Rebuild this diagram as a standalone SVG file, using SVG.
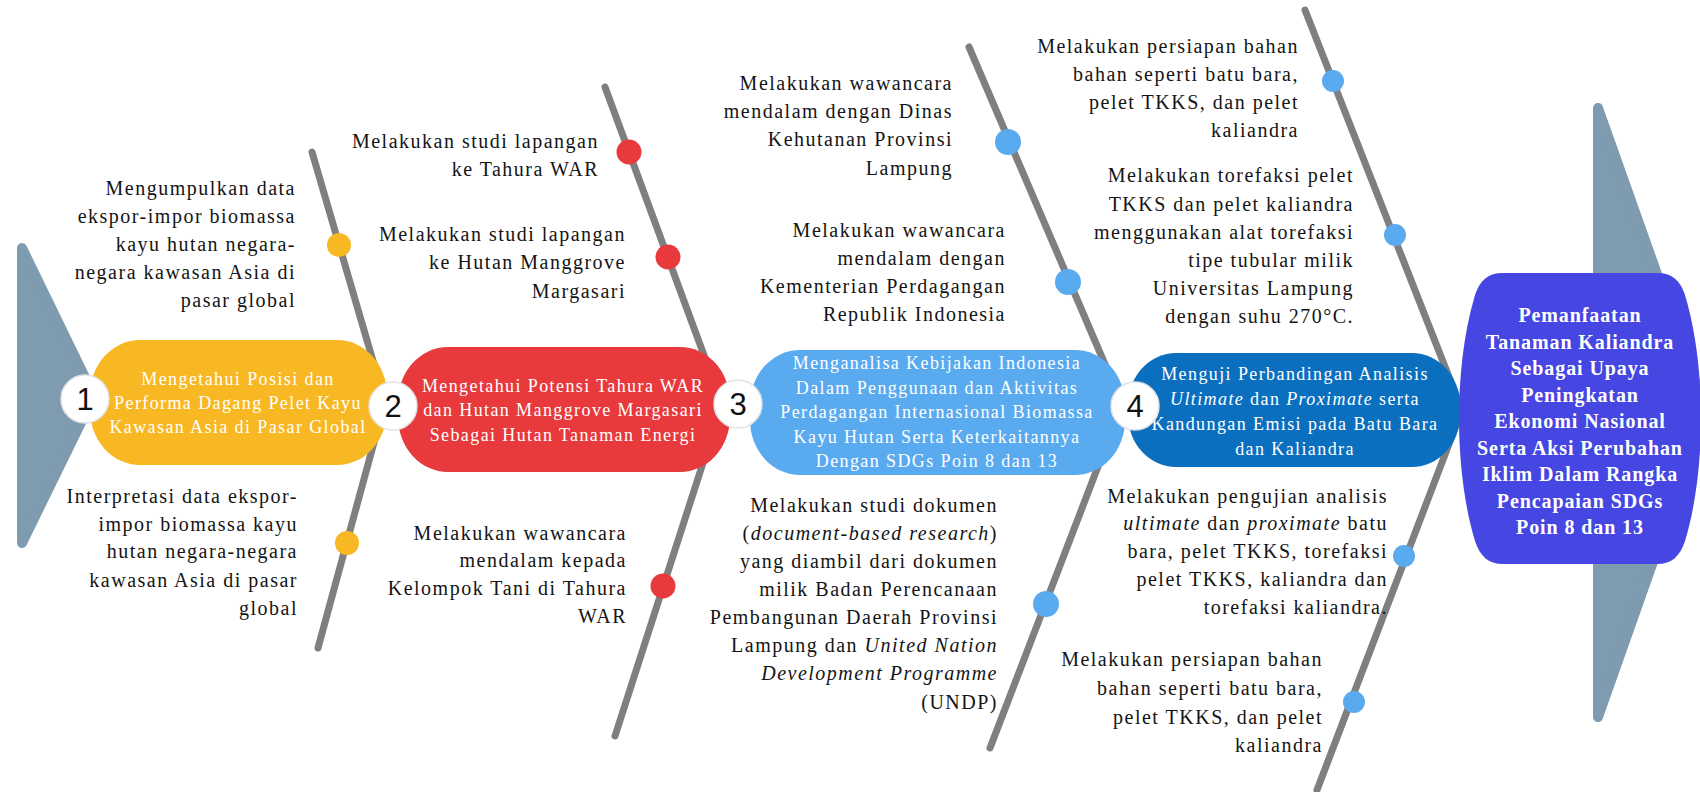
<svg xmlns="http://www.w3.org/2000/svg" width="1700" height="792" viewBox="0 0 1700 792">
<style>
.side{font-family:"Liberation Serif","Times New Roman",serif;font-size:20px;fill:#141414;text-anchor:end;letter-spacing:1.5px}
.pt{font-family:"Liberation Serif","Times New Roman",serif;font-size:18px;fill:#ffffff;text-anchor:middle;letter-spacing:1.4px}
.ft{font-family:"Liberation Serif","Times New Roman",serif;font-size:20px;font-weight:bold;fill:#ffffff;text-anchor:middle;letter-spacing:0.9px}
.num{font-family:"Liberation Sans",Arial,sans-serif;font-size:31px;fill:#111;text-anchor:middle}
.spine{fill:none;stroke:#7f7f7f;stroke-width:7;stroke-linecap:round;stroke-linejoin:round}
.tri{fill:#7f9bb0;stroke:#7f9bb0;stroke-width:10;stroke-linejoin:round}
.badge{fill:#ffffff;stroke:#e2e2e2;stroke-width:1.5}
.i{font-style:italic}
</style>
<g id="background">
<polygon class="tri" points="22,248 94,396 22,543"/>
<polygon class="tri" points="1598,108 1706,412 1598,717"/>
</g>
<g id="connectors">
<polyline class="spine" points="312,152 385,402 318,648"/>
<polyline class="spine" points="605,87 722,404 615,736"/>
<polyline class="spine" points="969,47 1122,404 990,748"/>
<polyline class="spine" points="1305,10 1462,410 1317,790"/>
<g fill="#f8b824">
<circle cx="339" cy="245" r="12"/>
<circle cx="347" cy="543" r="12"/>
</g>
<g fill="#e8393c">
<circle cx="629" cy="152" r="12.5"/>
<circle cx="668" cy="257" r="12.5"/>
<circle cx="663" cy="586" r="12.5"/>
</g>
<g fill="#5aaaf0">
<circle cx="1008" cy="142" r="13"/>
<circle cx="1068" cy="282" r="13"/>
<circle cx="1046" cy="604" r="13"/>
<circle cx="1333" cy="81" r="11"/>
<circle cx="1395" cy="235" r="11"/>
<circle cx="1404" cy="556" r="11"/>
<circle cx="1354" cy="702" r="11"/>
</g>
</g>
<g id="node1">
<rect x="90" y="340" width="297" height="125" rx="50" ry="55" fill="#f8b824"/>
<text class="pt"><tspan x="238" y="385">Mengetahui Posisi dan</tspan><tspan x="238" y="409">Performa Dagang Pelet Kayu</tspan><tspan x="238" y="433">Kawasan Asia di Pasar Global</tspan></text>
</g>
<g id="node2">
<rect x="398" y="347" width="332" height="125" rx="50" ry="55" fill="#e8393c"/>
<text class="pt"><tspan x="563" y="392">Mengetahui Potensi Tahura WAR</tspan><tspan x="563" y="416">dan Hutan Manggrove Margasari</tspan><tspan x="563" y="441">Sebagai Hutan Tanaman Energi</tspan></text>
</g>
<g id="node3">
<rect x="750" y="350" width="375" height="125" rx="50" ry="55" fill="#5aaaf0"/>
<text class="pt"><tspan x="937" y="369">Menganalisa Kebijakan Indonesia</tspan><tspan x="937" y="393.5">Dalam Penggunaan dan Aktivitas</tspan><tspan x="937" y="418">Perdagangan Internasional Biomassa</tspan><tspan x="937" y="442.5">Kayu Hutan Serta Keterkaitannya</tspan><tspan x="937" y="467">Dengan SDGs Poin 8 dan 13</tspan></text>
</g>
<g id="node4">
<rect x="1128" y="353" width="332" height="114" rx="48" ry="52" fill="#0b6fc0"/>
<text class="pt"><tspan x="1295" y="380">Menguji Perbandingan Analisis</tspan><tspan x="1295" y="405"><tspan class="i">Ultimate</tspan> dan <tspan class="i">Proximate</tspan> serta</tspan><tspan x="1295" y="430">Kandungan Emisi pada Batu Bara</tspan><tspan x="1295" y="455">dan Kaliandra</tspan></text>
</g>
<g id="goal">
<path d="M1503 273 H1657 C1672 273 1680 280 1685 295 C1697 335 1701 380 1701 418 C1701 456 1697 501 1685 541 C1680 556 1672 564 1657 564 H1503 C1488 564 1480 556 1475 541 C1463 501 1459 456 1459 418 C1459 380 1463 335 1475 295 C1480 280 1488 273 1503 273 Z" fill="#4646e2"/>
<text class="ft"><tspan x="1580" y="322">Pemanfaatan</tspan><tspan x="1580" y="348.5">Tanaman Kaliandra</tspan><tspan x="1580" y="375">Sebagai Upaya</tspan><tspan x="1580" y="401.5">Peningkatan</tspan><tspan x="1580" y="428">Ekonomi Nasional</tspan><tspan x="1580" y="454.5">Serta Aksi Perubahan</tspan><tspan x="1580" y="481">Iklim Dalam Rangka</tspan><tspan x="1580" y="507.5">Pencapaian SDGs</tspan><tspan x="1580" y="534">Poin 8 dan 13</tspan></text>
</g>
<g id="badge1"><circle class="badge" cx="85" cy="399" r="24"/><text class="num" x="85" y="410">1</text></g>
<g id="badge2"><circle class="badge" cx="393" cy="406" r="24"/><text class="num" x="393" y="417">2</text></g>
<g id="badge3"><circle class="badge" cx="738" cy="404" r="24"/><text class="num" x="738" y="415">3</text></g>
<g id="badge4"><circle class="badge" cx="1135" cy="406" r="24"/><text class="num" x="1135" y="417">4</text></g>
<g id="label-1a"><text class="side"><tspan x="296" y="195">Mengumpulkan data</tspan><tspan x="296" y="223">ekspor-impor biomassa</tspan><tspan x="296" y="251">kayu hutan negara-</tspan><tspan x="296" y="279">negara kawasan Asia di</tspan><tspan x="296" y="307">pasar global</tspan></text></g>
<g id="label-1b"><text class="side"><tspan x="298" y="503">Interpretasi data ekspor-</tspan><tspan x="298" y="531">impor biomassa kayu</tspan><tspan x="298" y="558">hutan negara-negara</tspan><tspan x="298" y="587">kawasan Asia di pasar</tspan><tspan x="298" y="615">global</tspan></text></g>
<g id="label-2a"><text class="side"><tspan x="599" y="148">Melakukan studi lapangan</tspan><tspan x="599" y="176">ke Tahura WAR</tspan></text></g>
<g id="label-2b"><text class="side"><tspan x="626" y="241">Melakukan studi lapangan</tspan><tspan x="626" y="269">ke Hutan Manggrove</tspan><tspan x="626" y="298">Margasari</tspan></text></g>
<g id="label-2c"><text class="side"><tspan x="627" y="540">Melakukan wawancara</tspan><tspan x="627" y="567">mendalam kepada</tspan><tspan x="627" y="595">Kelompok Tani di Tahura</tspan><tspan x="627" y="623">WAR</tspan></text></g>
<g id="label-3a"><text class="side"><tspan x="953" y="90">Melakukan wawancara</tspan><tspan x="953" y="118">mendalam dengan Dinas</tspan><tspan x="953" y="146">Kehutanan Provinsi</tspan><tspan x="953" y="175">Lampung</tspan></text></g>
<g id="label-3b"><text class="side"><tspan x="1006" y="237">Melakukan wawancara</tspan><tspan x="1006" y="265">mendalam dengan</tspan><tspan x="1006" y="293">Kementerian Perdagangan</tspan><tspan x="1006" y="321">Republik Indonesia</tspan></text></g>
<g id="label-3c"><text class="side"><tspan x="998" y="512">Melakukan studi dokumen</tspan><tspan x="998" y="540">(<tspan class="i">document-based research</tspan>)</tspan><tspan x="998" y="568">yang diambil dari dokumen</tspan><tspan x="998" y="596">milik Badan Perencanaan</tspan><tspan x="998" y="624">Pembangunan Daerah Provinsi</tspan><tspan x="998" y="652">Lampung dan <tspan class="i">United Nation</tspan></tspan><tspan x="998" y="680" class="i">Development Programme</tspan><tspan x="998" y="709">(UNDP)</tspan></text></g>
<g id="label-4a"><text class="side"><tspan x="1299" y="53">Melakukan persiapan bahan</tspan><tspan x="1299" y="81">bahan seperti batu bara,</tspan><tspan x="1299" y="109">pelet TKKS, dan pelet</tspan><tspan x="1299" y="137">kaliandra</tspan></text></g>
<g id="label-4b"><text class="side"><tspan x="1354" y="182">Melakukan torefaksi pelet</tspan><tspan x="1354" y="211">TKKS dan pelet kaliandra</tspan><tspan x="1354" y="239">menggunakan alat torefaksi</tspan><tspan x="1354" y="267">tipe tubular milik</tspan><tspan x="1354" y="295">Universitas Lampung</tspan><tspan x="1354" y="323">dengan suhu 270°C.</tspan></text></g>
<g id="label-4c"><text class="side"><tspan x="1388" y="503">Melakukan pengujian analisis</tspan><tspan x="1388" y="530"><tspan class="i">ultimate</tspan> dan <tspan class="i">proximate</tspan> batu</tspan><tspan x="1388" y="558">bara, pelet TKKS, torefaksi</tspan><tspan x="1388" y="586">pelet TKKS, kaliandra dan</tspan><tspan x="1388" y="614">torefaksi kaliandra.</tspan></text></g>
<g id="label-4d"><text class="side"><tspan x="1323" y="666">Melakukan persiapan bahan</tspan><tspan x="1323" y="695">bahan seperti batu bara,</tspan><tspan x="1323" y="724">pelet TKKS, dan pelet</tspan><tspan x="1323" y="752">kaliandra</tspan></text></g>
</svg>
